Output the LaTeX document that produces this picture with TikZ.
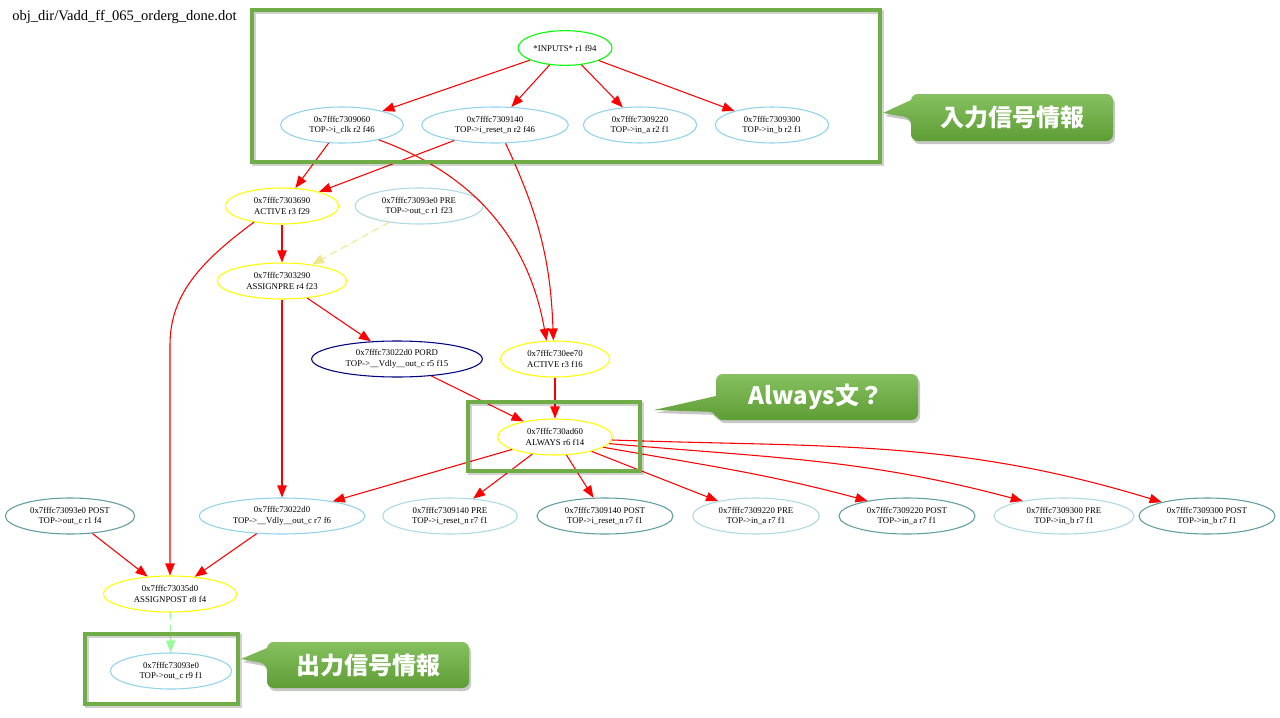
\documentclass[tikz,border=0pt]{standalone}
\usepackage{fontspec}
\setmainfont{Liberation Serif}
\newfontfamily\cjkfont{Noto Sans CJK JP}
\usetikzlibrary{shapes.geometric,arrows.meta}
\definecolor{gvyellow}{HTML}{FFFF00}
\definecolor{gvsky}{HTML}{8FD3EC}
\definecolor{gvlblue}{HTML}{ADD8E6}
\definecolor{gvcadet}{HTML}{5F9EA0}
\definecolor{gvnavy}{HTML}{000080}
\definecolor{gvgreen}{HTML}{00FF00}
\definecolor{gvkhaki}{HTML}{F0E68C}
\definecolor{gvpale}{HTML}{98FB98}
\definecolor{boxgreen}{HTML}{70AD47}
\definecolor{cgtop}{HTML}{86C060}
\definecolor{cgbot}{HTML}{5E9D35}
\begin{document}
\begin{tikzpicture}[x=0.75pt,y=0.75pt,
  gv/.style={ellipse,draw,line width=0.8pt,minimum height=27pt,inner sep=0pt,align=center,
    font=\fontsize{6.6}{8}\selectfont},
  ylw/.style={gv,draw=gvyellow},
  sky/.style={gv,draw=gvsky},
  lbl/.style={gv,draw=gvlblue},
  cad/.style={gv,draw=gvcadet},
  e/.style={draw=red,line width=0.8pt,-{Triangle[length=9pt,width=7pt]}},
  dsh/.style={line width=0.8pt,dash pattern=on 5pt off 4pt,-{Triangle[length=9pt,width=7pt]}},
  gbox/.style={draw=boxgreen,line width=3pt},
  gshadow/.style={draw=black,opacity=0.18,line width=3pt},
  ctext/.style={font=\cjkfont\bfseries\fontsize{18}{20}\selectfont,text=white,inner sep=0pt}
]
\useasboundingbox (0,0) rectangle (1280,-717);
\fill[white] (0,0) rectangle (1280,-717);

\node[anchor=west,inner sep=0pt,font=\fontsize{10.9}{12}\selectfont] (title) at (12,-17) {obj\_dir/Vadd\_ff\_065\_orderg\_done.dot};

% nodes
\node[gv,draw=gvgreen,minimum width=70.5pt,minimum height=26pt] (inp) at (565,-48) {*INPUTS* r1 f94};
\node[sky,minimum width=92pt] (n060) at (342,-125) {0x7fffc7309060\\TOP->i\_clk r2 f46};
\node[sky,minimum width=110pt] (n140) at (495,-125) {0x7fffc7309140\\TOP->i\_reset\_n r2 f46};
\node[sky,minimum width=85pt] (n220) at (640,-125) {0x7fffc7309220\\TOP->in\_a r2 f1};
\node[sky,minimum width=85pt] (n300) at (772,-125) {0x7fffc7309300\\TOP->in\_b r2 f1};

\node[ylw,minimum width=85pt] (a29) at (282,-206) {0x7fffc7303690\\ACTIVE r3 f29};
\node[lbl,minimum width=96pt] (pre) at (419,-206) {0x7fffc73093e0 PRE\\TOP->out\_c r1 f23};
\node[ylw,minimum width=97pt] (apre) at (282,-281) {0x7fffc7303290\\ASSIGNPRE r4 f23};
\node[gv,draw=gvnavy,minimum width=128pt] (pord) at (397,-359) {0x7fffc73022d0 PORD\\TOP->\_\_Vdly\_\_out\_c r5 f15};
\node[ylw,minimum width=82pt] (a16) at (555,-359) {0x7fffc730ee70\\ACTIVE r3 f16};
\node[ylw,minimum width=86pt] (alw) at (555,-437) {0x7fffc730ad60\\ALWAYS r6 f14};

\node[cad,minimum width=97pt] (opost) at (70,-516) {0x7fffc73093e0 POST\\TOP->out\_c r1 f4};
\node[sky,minimum width=124pt] (vdly) at (282,-516) {0x7fffc73022d0\\TOP->\_\_Vdly\_\_out\_c r7 f6};
\node[lbl,minimum width=101pt] (p140pre) at (450,-516) {0x7fffc7309140 PRE\\TOP->i\_reset\_n r7 f1};
\node[cad,minimum width=102pt] (p140post) at (605,-516) {0x7fffc7309140 POST\\TOP->i\_reset\_n r7 f1};
\node[lbl,minimum width=95pt] (p220pre) at (756,-516) {0x7fffc7309220 PRE\\TOP->in\_a r7 f1};
\node[cad,minimum width=102pt] (p220post) at (907,-516) {0x7fffc7309220 POST\\TOP->in\_a r7 f1};
\node[lbl,minimum width=105pt] (p300pre) at (1064,-516) {0x7fffc7309300 PRE\\TOP->in\_b r7 f1};
\node[cad,minimum width=102pt] (p300post) at (1207,-516) {0x7fffc7309300 POST\\TOP->in\_b r7 f1};

\node[ylw,minimum width=100pt] (apost) at (170,-594) {0x7fffc73035d0\\ASSIGNPOST r8 f4};
\node[sky,minimum width=91pt] (out) at (171,-671) {0x7fffc73093e0\\TOP->out\_c r9 f1};

\coordinate (bend29) at (170,-345);

% edges
\draw[e] (inp) -- (n060);
\draw[e] (inp) -- (n140);
\draw[e] (inp) -- (n220);
\draw[e] (inp) -- (n300);
\draw[e] (n060) -- (a29);
\draw[e] (n140) -- (a29);
\draw[e] (n060.-22) to[out=-20,in=100] (a16.115);
\draw[e] (n140.-60) to[out=-65,in=92] (a16.95);
\draw[e] (a29) -- (apre);
\draw[e] (a29.-150) .. controls (200,-262) and (170,-295) .. (bend29) -- (apost.north);
\draw[dsh,draw=gvkhaki,fill=gvkhaki] (pre) -- (apre);
\draw[e] (apre) -- (pord);
\draw[e] (apre) -- (vdly);
\draw[e] (pord) -- (alw);
\draw[e] (a16) -- (alw);
\draw[e] (alw) -- (vdly);
\draw[e] (alw) -- (p140pre);
\draw[e] (alw) -- (p140post);
\draw[e] (alw) -- (p220pre);
\draw[e] (alw.-12) to[out=-10,in=165] (p220post.159);
\draw[e] (alw.-7) to[out=-5,in=165] (p300pre.160);
\draw[e] (alw.-3) to[out=-2,in=163] (p300post.163);
\draw[e] (opost) -- (apost);
\draw[e] (vdly) -- (apost);
\draw[dsh,draw=gvpale,fill=gvpale] (apost) -- (out);

% overlay boxes
\draw[gshadow] (254,-12) rectangle (882,-164);
\draw[gbox] (252,-10) rectangle (880,-162);
\draw[gshadow] (470,-404) rectangle (642,-473);
\draw[gbox] (468,-402) rectangle (640,-471);
\draw[gshadow] (87,-636) rectangle (240,-706);
\draw[gbox] (85,-634) rectangle (238,-704);

% callouts
\fill[black,opacity=0.22,rounded corners=5pt] (913,-97) -- (1115,-97) -- (1115,-144) -- (913,-144) -- (913,-121) [sharp corners] -- (885,-116) -- (913,-103) [rounded corners=5pt] -- cycle;
\shade[top color=cgtop,bottom color=cgbot,rounded corners=5pt] (911,-94) -- (1113,-94) -- (1113,-141) -- (911,-141) -- (911,-118) [sharp corners] -- (883,-113) -- (911,-100) [rounded corners=5pt] -- cycle;
\node[ctext] (c1) at (1012,-117) {入力信号情報};

\fill[black,opacity=0.22,rounded corners=5pt] (718,-377) -- (920,-377) -- (920,-423) -- (718,-423) -- (718,-415) [sharp corners] -- (656,-413) -- (718,-399) [rounded corners=5pt] -- cycle;
\shade[top color=cgtop,bottom color=cgbot,rounded corners=5pt] (716,-374) -- (918,-374) -- (918,-420) -- (716,-420) -- (716,-412) [sharp corners] -- (654,-410) -- (716,-396) [rounded corners=5pt] -- cycle;
\node[ctext] (c2) at (816,-397) {Always文？};

\fill[black,opacity=0.22,rounded corners=5pt] (269,-645) -- (471,-645) -- (471,-691) -- (269,-691) -- (269,-667) [sharp corners] -- (243,-662) -- (269,-651) [rounded corners=5pt] -- cycle;
\shade[top color=cgtop,bottom color=cgbot,rounded corners=5pt] (267,-642) -- (469,-642) -- (469,-688) -- (267,-688) -- (267,-664) [sharp corners] -- (241,-659) -- (267,-648) [rounded corners=5pt] -- cycle;
\node[ctext] (c3) at (368,-665) {出力信号情報};
\end{tikzpicture}
\end{document}
